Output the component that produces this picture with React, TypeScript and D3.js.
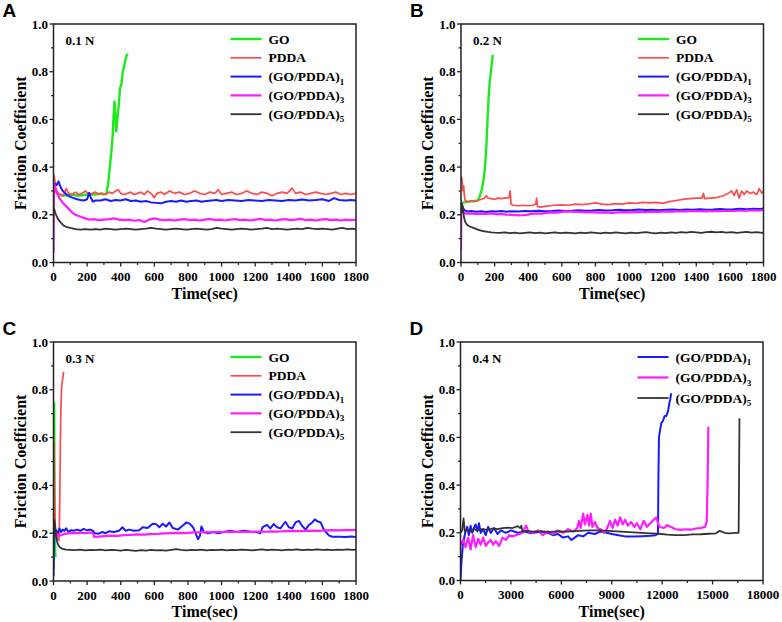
import React from 'react';
import * as d3 from 'd3';

type Pt = [number, number];

// ---- Panel A, 0.1 N ----
const aGO: Pt[] = [[0,0.33],[10,0.31],[25,0.29],[50,0.28],[100,0.285],[150,0.28],[200,0.285],[250,0.285],[280,0.29],[300,0.285],[315,0.29],[325,0.33],[335,0.40],[345,0.47],[352,0.53],[358,0.62],[363,0.675],[368,0.62],[373,0.55],[380,0.6],[388,0.66],[396,0.73],[405,0.75],[412,0.8],[420,0.82],[428,0.85],[436,0.87],[442,0.875]];
const aPDDA: Pt[] = [[0,0.37],[5,0.36],[12,0.32],[20,0.30],[30,0.29],[45,0.285],[60,0.28],[75,0.31],[90,0.29],[110,0.285],[130,0.295],[150,0.285],[170,0.29],[190,0.3],[210,0.285],[230,0.29],[250,0.295],[270,0.285],[290,0.29],[310,0.285],[330,0.295],[350,0.29],[370,0.3],[385,0.305],[400,0.29],[420,0.285],[440,0.29],[460,0.295],[480,0.285],[500,0.29],[520,0.295],[540,0.285],[560,0.3],[580,0.29],[600,0.272],[615,0.29],[640,0.295],[660,0.285],[690,0.3],[720,0.29],[750,0.295],[780,0.285],[810,0.29],[840,0.3],[870,0.29],[900,0.285],[930,0.295],[960,0.29],[980,0.305],[1000,0.285],[1030,0.29],[1060,0.295],[1090,0.285],[1120,0.29],[1150,0.3],[1180,0.29],[1210,0.285],[1240,0.295],[1270,0.29],[1300,0.28],[1330,0.29],[1360,0.295],[1390,0.29],[1420,0.312],[1440,0.29],[1470,0.295],[1500,0.285],[1530,0.29],[1560,0.295],[1590,0.29],[1620,0.285],[1650,0.29],[1680,0.295],[1710,0.285],[1740,0.29],[1770,0.285],[1800,0.29]];
const aGP1: Pt[] = [[0,0.32],[10,0.33],[20,0.325],[30,0.34],[40,0.32],[55,0.30],[70,0.29],[85,0.28],[100,0.275],[120,0.27],[140,0.265],[160,0.262],[180,0.26],[200,0.265],[212,0.292],[220,0.275],[235,0.255],[250,0.26],[280,0.26],[310,0.265],[340,0.258],[370,0.262],[400,0.26],[430,0.265],[460,0.258],[490,0.26],[520,0.255],[550,0.258],[580,0.252],[610,0.25],[640,0.248],[670,0.255],[700,0.258],[730,0.255],[760,0.26],[790,0.255],[820,0.258],[850,0.26],[880,0.255],[910,0.258],[940,0.26],[970,0.262],[1000,0.258],[1040,0.262],[1080,0.26],[1120,0.258],[1160,0.262],[1200,0.26],[1240,0.258],[1280,0.262],[1320,0.26],[1360,0.258],[1400,0.262],[1440,0.26],[1480,0.264],[1520,0.26],[1560,0.262],[1600,0.265],[1640,0.258],[1670,0.27],[1700,0.262],[1740,0.26],[1770,0.262],[1800,0.26]];
const aGP3: Pt[] = [[0,0.04],[3,0.33],[10,0.31],[20,0.29],[35,0.27],[50,0.255],[70,0.24],[90,0.225],[110,0.21],[130,0.2],[150,0.195],[170,0.19],[190,0.185],[210,0.18],[240,0.182],[270,0.178],[300,0.18],[330,0.182],[360,0.185],[390,0.18],[420,0.178],[450,0.18],[480,0.175],[510,0.178],[540,0.17],[570,0.18],[600,0.185],[630,0.18],[660,0.178],[690,0.18],[720,0.176],[750,0.18],[780,0.182],[810,0.178],[840,0.18],[870,0.176],[900,0.18],[930,0.183],[960,0.178],[990,0.18],[1020,0.176],[1050,0.18],[1080,0.182],[1110,0.178],[1140,0.18],[1170,0.176],[1200,0.18],[1230,0.183],[1260,0.178],[1290,0.18],[1320,0.176],[1350,0.18],[1380,0.182],[1410,0.178],[1440,0.18],[1470,0.183],[1500,0.178],[1530,0.18],[1560,0.176],[1590,0.18],[1620,0.182],[1650,0.178],[1680,0.18],[1710,0.176],[1740,0.18],[1770,0.178],[1800,0.18]];
const aGP5: Pt[] = [[2,0.23],[8,0.215],[15,0.2],[25,0.185],[40,0.17],[60,0.155],[80,0.148],[100,0.145],[130,0.14],[160,0.138],[190,0.14],[220,0.138],[250,0.14],[280,0.138],[310,0.142],[340,0.14],[370,0.138],[400,0.14],[430,0.142],[460,0.14],[490,0.138],[520,0.14],[550,0.142],[580,0.145],[610,0.142],[640,0.14],[670,0.138],[700,0.14],[730,0.142],[760,0.14],[790,0.138],[820,0.14],[850,0.142],[880,0.14],[910,0.138],[940,0.14],[970,0.145],[1000,0.142],[1030,0.14],[1060,0.138],[1090,0.14],[1120,0.142],[1150,0.14],[1180,0.138],[1210,0.14],[1240,0.142],[1270,0.145],[1300,0.14],[1330,0.142],[1360,0.14],[1390,0.138],[1420,0.14],[1450,0.142],[1480,0.14],[1510,0.145],[1540,0.142],[1570,0.14],[1600,0.142],[1630,0.14],[1660,0.138],[1690,0.142],[1720,0.145],[1750,0.14],[1780,0.142],[1800,0.14]];

// ---- Panel B, 0.2 N ----
const bGO: Pt[] = [[0,0.25],[50,0.255],[100,0.26],[110,0.275],[125,0.31],[135,0.35],[145,0.42],[152,0.5],[159,0.62],[165,0.7],[171,0.76],[178,0.8],[184,0.84],[189,0.87]];
const bPDDA: Pt[] = [[3,0.36],[8,0.33],[12,0.3],[16,0.32],[20,0.28],[25,0.26],[40,0.255],[60,0.26],[80,0.255],[100,0.26],[120,0.265],[140,0.27],[150,0.28],[160,0.27],[180,0.268],[200,0.265],[220,0.27],[240,0.268],[260,0.27],[285,0.272],[292,0.3],[298,0.245],[310,0.24],[340,0.238],[370,0.24],[400,0.238],[430,0.24],[445,0.245],[450,0.27],[455,0.235],[470,0.232],[500,0.235],[530,0.238],[560,0.24],[600,0.242],[640,0.24],[680,0.245],[720,0.243],[760,0.246],[800,0.25],[840,0.245],[880,0.243],[920,0.247],[960,0.245],[1000,0.25],[1040,0.248],[1080,0.252],[1120,0.25],[1160,0.252],[1200,0.248],[1240,0.255],[1280,0.26],[1320,0.265],[1360,0.268],[1400,0.27],[1435,0.27],[1442,0.29],[1450,0.268],[1480,0.27],[1520,0.272],[1560,0.28],[1590,0.29],[1610,0.3],[1625,0.28],[1640,0.305],[1655,0.27],[1670,0.3],[1685,0.285],[1700,0.3],[1720,0.29],[1740,0.295],[1760,0.285],[1775,0.31],[1790,0.29],[1800,0.3]];
const bGP1: Pt[] = [[2,0.25],[6,0.24],[12,0.228],[20,0.22],[30,0.216],[45,0.214],[60,0.216],[90,0.213],[120,0.215],[150,0.212],[180,0.215],[210,0.214],[240,0.216],[270,0.213],[300,0.215],[340,0.214],[380,0.216],[420,0.215],[460,0.217],[500,0.215],[540,0.216],[580,0.218],[620,0.216],[660,0.217],[700,0.219],[740,0.217],[780,0.218],[820,0.22],[860,0.218],[900,0.219],[940,0.221],[980,0.219],[1020,0.22],[1060,0.222],[1100,0.22],[1140,0.221],[1180,0.219],[1220,0.221],[1260,0.222],[1300,0.22],[1340,0.222],[1380,0.221],[1420,0.223],[1460,0.221],[1500,0.222],[1540,0.224],[1580,0.222],[1620,0.223],[1660,0.225],[1700,0.223],[1740,0.225],[1780,0.224],[1800,0.226]];
const bGP3: Pt[] = [[0,0.05],[2,0.24],[6,0.225],[12,0.212],[20,0.207],[35,0.205],[60,0.206],[90,0.203],[120,0.205],[150,0.204],[180,0.206],[210,0.203],[240,0.204],[270,0.201],[300,0.2],[330,0.199],[360,0.198],[390,0.2],[420,0.204],[450,0.206],[480,0.205],[510,0.208],[540,0.21],[570,0.209],[600,0.212],[630,0.214],[660,0.213],[700,0.212],[740,0.21],[780,0.211],[820,0.209],[860,0.21],[900,0.208],[940,0.21],[980,0.211],[1020,0.21],[1060,0.212],[1100,0.211],[1140,0.213],[1180,0.212],[1220,0.214],[1260,0.213],[1300,0.215],[1340,0.214],[1380,0.216],[1420,0.215],[1460,0.214],[1500,0.216],[1540,0.215],[1580,0.217],[1620,0.216],[1660,0.218],[1700,0.217],[1740,0.219],[1780,0.218],[1800,0.22]];
const bGP5: Pt[] = [[2,0.21],[6,0.245],[10,0.235],[14,0.21],[18,0.19],[24,0.172],[32,0.162],[42,0.155],[55,0.15],[70,0.146],[85,0.142],[100,0.138],[120,0.134],[140,0.131],[160,0.128],[180,0.126],[200,0.125],[230,0.124],[260,0.126],[290,0.123],[320,0.125],[350,0.122],[380,0.124],[410,0.126],[440,0.123],[470,0.125],[500,0.122],[530,0.124],[560,0.126],[590,0.123],[620,0.125],[650,0.124],[680,0.122],[710,0.125],[740,0.123],[770,0.126],[800,0.124],[830,0.122],[860,0.125],[890,0.123],[920,0.126],[950,0.124],[980,0.122],[1010,0.125],[1040,0.123],[1070,0.125],[1100,0.127],[1130,0.124],[1160,0.122],[1190,0.125],[1220,0.123],[1250,0.126],[1280,0.124],[1310,0.127],[1340,0.125],[1370,0.128],[1400,0.126],[1430,0.124],[1460,0.127],[1490,0.129],[1520,0.126],[1550,0.128],[1580,0.125],[1610,0.127],[1640,0.124],[1670,0.126],[1700,0.128],[1730,0.125],[1760,0.127],[1790,0.124],[1800,0.126]];

// ---- Panel C, 0.3 N ----
const cGO: Pt[] = [[1,0.05],[2,0.3],[3,0.6],[4,0.745],[5,0.6],[6,0.4],[8,0.2],[10,0.12],[12,0.1]];
const cPDDA: Pt[] = [[2,0.22],[3,0.58],[5,0.45],[7,0.32],[10,0.24],[14,0.2],[20,0.19],[26,0.18],[32,0.17],[35,0.22],[38,0.38],[41,0.58],[44,0.72],[47,0.79],[50,0.82],[53,0.84],[56,0.85],[60,0.875]];
const cGP1: Pt[] = [[0,0.02],[2,0.12],[4,0.2],[8,0.22],[15,0.21],[25,0.2],[35,0.22],[45,0.205],[55,0.215],[65,0.21],[75,0.22],[90,0.205],[105,0.213],[120,0.21],[140,0.215],[160,0.21],[180,0.218],[200,0.212],[220,0.215],[235,0.21],[245,0.2],[270,0.198],[290,0.205],[310,0.2],[330,0.208],[360,0.205],[390,0.21],[410,0.225],[430,0.21],[450,0.215],[480,0.21],[510,0.212],[530,0.225],[560,0.222],[590,0.24],[610,0.238],[630,0.225],[650,0.24],[670,0.228],[690,0.245],[710,0.222],[740,0.215],[770,0.232],[790,0.245],[810,0.24],[830,0.225],[845,0.2],[860,0.175],[872,0.19],[880,0.228],[895,0.205],[920,0.2],[950,0.205],[980,0.2],[1010,0.205],[1050,0.21],[1090,0.205],[1130,0.21],[1170,0.207],[1210,0.205],[1230,0.2],[1245,0.225],[1270,0.235],[1290,0.22],[1310,0.238],[1330,0.225],[1350,0.22],[1380,0.248],[1400,0.225],[1420,0.22],[1440,0.245],[1460,0.252],[1480,0.23],[1500,0.215],[1520,0.235],[1540,0.245],[1555,0.258],[1570,0.25],[1590,0.245],[1605,0.22],[1620,0.205],[1640,0.19],[1660,0.185],[1700,0.185],[1740,0.184],[1770,0.186],[1800,0.184]];
const cGP3: Pt[] = [[3,0.23],[6,0.215],[10,0.2],[15,0.19],[25,0.195],[40,0.19],[60,0.196],[80,0.198],[100,0.2],[130,0.2],[160,0.202],[190,0.2],[220,0.203],[235,0.2],[242,0.185],[270,0.186],[300,0.188],[340,0.19],[380,0.189],[420,0.192],[460,0.193],[500,0.195],[540,0.194],[580,0.196],[620,0.197],[660,0.199],[700,0.2],[740,0.201],[780,0.2],[820,0.202],[860,0.204],[900,0.205],[940,0.204],[980,0.206],[1020,0.205],[1060,0.206],[1100,0.205],[1140,0.206],[1180,0.205],[1220,0.207],[1260,0.206],[1300,0.208],[1340,0.207],[1380,0.209],[1420,0.21],[1460,0.209],[1500,0.21],[1540,0.211],[1580,0.21],[1620,0.212],[1660,0.213],[1700,0.212],[1740,0.214],[1780,0.213],[1800,0.214]];
const cGP5: Pt[] = [[2,0.19],[5,0.255],[8,0.24],[12,0.21],[16,0.185],[22,0.163],[30,0.148],[40,0.14],[55,0.134],[75,0.131],[100,0.13],[130,0.129],[160,0.131],[190,0.128],[220,0.13],[250,0.129],[280,0.131],[310,0.128],[340,0.13],[370,0.129],[400,0.127],[430,0.13],[460,0.128],[490,0.126],[520,0.129],[550,0.127],[580,0.13],[610,0.128],[640,0.129],[670,0.127],[700,0.13],[730,0.133],[760,0.13],[790,0.128],[820,0.13],[850,0.129],[880,0.131],[910,0.128],[940,0.13],[970,0.129],[1000,0.131],[1030,0.128],[1060,0.13],[1090,0.129],[1120,0.131],[1150,0.13],[1180,0.128],[1210,0.13],[1240,0.132],[1270,0.129],[1300,0.131],[1330,0.13],[1360,0.128],[1390,0.131],[1420,0.13],[1450,0.132],[1480,0.129],[1510,0.131],[1540,0.13],[1570,0.132],[1600,0.13],[1630,0.131],[1660,0.129],[1690,0.131],[1720,0.13],[1750,0.132],[1780,0.13],[1800,0.131]];

// ---- Panel D, 0.4 N ----
const dGP1: Pt[] = [[0,0.0],[60,0.08],[140,0.15],[280,0.2],[400,0.225],[500,0.19],[600,0.23],[700,0.2],[800,0.22],[900,0.235],[1000,0.205],[1100,0.24],[1200,0.2],[1350,0.215],[1500,0.19],[1650,0.225],[1800,0.2],[2000,0.22],[2200,0.195],[2400,0.21],[2700,0.2],[3000,0.21],[3400,0.2],[3800,0.205],[4200,0.198],[4800,0.205],[5200,0.2],[5500,0.19],[5800,0.195],[6100,0.18],[6400,0.185],[6600,0.17],[6800,0.18],[7000,0.19],[7300,0.185],[7600,0.2],[8000,0.195],[8300,0.205],[8700,0.2],[9000,0.195],[9400,0.19],[9800,0.185],[10300,0.184],[10800,0.186],[11300,0.188],[11600,0.19],[11750,0.195],[11780,0.45],[11810,0.6],[11900,0.64],[11950,0.66],[12050,0.67],[12150,0.69],[12250,0.69],[12350,0.71],[12420,0.74],[12480,0.76],[12540,0.785]];
const dGP3: Pt[] = [[0,0.15],[150,0.17],[300,0.14],[450,0.18],[600,0.13],[750,0.19],[900,0.14],[1050,0.175],[1200,0.15],[1350,0.18],[1500,0.145],[1650,0.16],[1800,0.17],[1950,0.15],[2100,0.165],[2300,0.145],[2500,0.18],[2700,0.17],[2900,0.19],[3100,0.185],[3300,0.19],[3500,0.195],[3700,0.2],[3900,0.23],[4050,0.205],[4300,0.2],[4600,0.21],[4900,0.19],[5200,0.205],[5500,0.195],[5800,0.21],[6100,0.2],[6400,0.215],[6700,0.205],[6950,0.22],[7050,0.25],[7150,0.22],[7300,0.28],[7400,0.235],[7550,0.275],[7650,0.23],[7750,0.28],[7850,0.225],[8000,0.245],[8150,0.22],[8350,0.215],[8550,0.2],[8700,0.215],[8900,0.25],[9050,0.22],[9200,0.255],[9350,0.23],[9500,0.265],[9650,0.235],[9800,0.255],[9950,0.23],[10150,0.245],[10350,0.225],[10500,0.24],[10700,0.215],[10900,0.25],[11100,0.225],[11300,0.24],[11500,0.255],[11650,0.265],[11750,0.24],[11850,0.225],[12100,0.22],[12300,0.232],[12500,0.225],[12800,0.215],[13100,0.212],[13400,0.215],[13700,0.213],[14000,0.218],[14300,0.22],[14550,0.225],[14650,0.245],[14700,0.4],[14750,0.645]];
const dGP5: Pt[] = [[0,0.2],[100,0.21],[180,0.26],[260,0.205],[400,0.215],[600,0.205],[800,0.215],[1000,0.21],[1300,0.215],[1600,0.212],[1900,0.218],[2200,0.215],[2500,0.22],[2800,0.222],[3100,0.22],[3400,0.228],[3550,0.22],[3620,0.23],[3680,0.205],[3900,0.208],[4300,0.205],[4800,0.206],[5300,0.204],[5800,0.206],[6300,0.205],[6800,0.207],[7300,0.209],[7800,0.21],[8300,0.21],[8800,0.208],[9300,0.206],[9800,0.204],[10300,0.202],[10800,0.2],[11300,0.198],[11800,0.196],[12300,0.192],[12800,0.19],[13300,0.19],[13800,0.193],[14300,0.194],[14800,0.196],[15200,0.198],[15400,0.208],[15550,0.205],[15700,0.2],[16000,0.198],[16300,0.2],[16550,0.2],[16600,0.68]];

const yTicks = [0, 0.2, 0.4, 0.6, 0.8, 1.0];
const xTicksShort = [0, 200, 400, 600, 800, 1000, 1200, 1400, 1600, 1800];
const xTicksLong = [0, 3000, 6000, 9000, 12000, 15000, 18000];

type Key = 'GO' | 'PDDA' | 'GP1' | 'GP3' | 'GP5';
const labels: Record<Key, [string, string]> = {
  GO: ['GO', ''],
  PDDA: ['PDDA', ''],
  GP1: ['(GO/PDDA)', '1'],
  GP3: ['(GO/PDDA)', '3'],
  GP5: ['(GO/PDDA)', '5'],
};
const colors: Record<Key, string> = {
  GO: '#1ee81e',
  PDDA: '#ff4b4b',
  GP1: '#1a1aff',
  GP3: '#ff1cff',
  GP5: '#333333',
};
const widths: Record<Key, number> = { GO: 2.4, PDDA: 1.7, GP1: 2, GP3: 2.2, GP5: 1.8 };

interface PanelDef {
  letter: string;
  load: string;
  left: number; right: number; top: number; bottom: number;
  xMax: number;
  xTicks: number[];
  series: { key: Key; data: Pt[] }[];
  legendGap: number;
}

const panels: PanelDef[] = [
  { letter: 'A', load: '0.1 N', left: 53.5, right: 356, top: 24, bottom: 262.5, xMax: 1800, xTicks: xTicksShort, legendGap: 18.8,
    series: [{ key: 'GO', data: aGO }, { key: 'PDDA', data: aPDDA }, { key: 'GP1', data: aGP1 }, { key: 'GP3', data: aGP3 }, { key: 'GP5', data: aGP5 }] },
  { letter: 'B', load: '0.2 N', left: 461, right: 763.5, top: 24, bottom: 262.5, xMax: 1800, xTicks: xTicksShort, legendGap: 18.8,
    series: [{ key: 'GO', data: bGO }, { key: 'PDDA', data: bPDDA }, { key: 'GP1', data: bGP1 }, { key: 'GP3', data: bGP3 }, { key: 'GP5', data: bGP5 }] },
  { letter: 'C', load: '0.3 N', left: 53.5, right: 356, top: 342, bottom: 581, xMax: 1800, xTicks: xTicksShort, legendGap: 18.8,
    series: [{ key: 'GO', data: cGO }, { key: 'PDDA', data: cPDDA }, { key: 'GP1', data: cGP1 }, { key: 'GP3', data: cGP3 }, { key: 'GP5', data: cGP5 }] },
  { letter: 'D', load: '0.4 N', left: 460.5, right: 763, top: 342, bottom: 580.5, xMax: 18000, xTicks: xTicksLong, legendGap: 20.5,
    series: [{ key: 'GP1', data: dGP1 }, { key: 'GP3', data: dGP3 }, { key: 'GP5', data: dGP5 }] },
];

const serif = '"Liberation Serif", "Times New Roman", serif';
const axisColor = '#222';

const Panel: React.FC<{ p: PanelDef }> = ({ p }) => {
  const x = d3.scaleLinear().domain([0, p.xMax]).range([p.left, p.right]);
  const y = d3.scaleLinear().domain([0, 1]).range([p.bottom, p.top]);
  const line = d3.line<Pt>().x(d => x(d[0])).y(d => y(d[1]));
  const step = p.xTicks[1] - p.xTicks[0];
  const xMinor = p.xTicks.slice(0, -1).map(t => t + step / 2);
  const yMinor = yTicks.slice(0, -1).map(t => t + 0.1);
  const clipId = `clip-${p.letter}`;
  const midY = (p.top + p.bottom) / 2;
  const midX = (p.left + p.right) / 2;

  return (
    <g>
      <defs>
        <clipPath id={clipId}>
          <rect x={p.left} y={p.top} width={p.right - p.left} height={p.bottom - p.top} />
        </clipPath>
      </defs>
      <text x={p.left - 51} y={p.top - 7} fontFamily='"Liberation Sans", Arial, sans-serif' fontWeight="bold" fontSize={19}>{p.letter}</text>

      <g clipPath={`url(#${clipId})`} fill="none" strokeLinejoin="round">
        {p.series.map(s => (
          <path key={s.key} d={line(s.data) ?? ''} stroke={colors[s.key]} strokeWidth={widths[s.key]} />
        ))}
      </g>

      {/* frame */}
      <rect x={p.left} y={p.top} width={p.right - p.left} height={p.bottom - p.top} fill="none" stroke={axisColor} strokeWidth={1.5} />

      {/* x ticks */}
      {p.xTicks.map(t => (
        <g key={`xt${t}`}>
          <line x1={x(t)} x2={x(t)} y1={p.bottom} y2={p.bottom + 4} stroke={axisColor} strokeWidth={1.3} />
          <text x={x(t)} y={p.bottom + 18.5} textAnchor="middle" fontFamily={serif} fontWeight="bold" fontSize={13}>{t}</text>
        </g>
      ))}
      {xMinor.map(t => (
        <line key={`xm${t}`} x1={x(t)} x2={x(t)} y1={p.bottom} y2={p.bottom + 2.5} stroke={axisColor} strokeWidth={1.2} />
      ))}

      {/* y ticks */}
      {yTicks.map(t => (
        <g key={`yt${t}`}>
          <line x1={p.left - 4} x2={p.left} y1={y(t)} y2={y(t)} stroke={axisColor} strokeWidth={1.3} />
          <text x={p.left - 5.5} y={y(t) + 4.5} textAnchor="end" fontFamily={serif} fontWeight="bold" fontSize={13}>{d3.format('.1f')(t)}</text>
        </g>
      ))}
      {yMinor.map(t => (
        <line key={`ym${t}`} x1={p.left - 2.5} x2={p.left} y1={y(t)} y2={y(t)} stroke={axisColor} strokeWidth={1.2} />
      ))}

      {/* axis titles */}
      <text x={midX} y={p.bottom + 36} textAnchor="middle" fontFamily={serif} fontWeight="bold" fontSize={16}>Time(sec)</text>
      <text transform={`translate(${p.left - 28},${midY}) rotate(-90)`} textAnchor="middle" fontFamily={serif} fontWeight="bold" fontSize={16}>Friction Coefficient</text>

      {/* load label */}
      <text x={p.left + 12} y={p.top + 21} fontFamily={serif} fontWeight="bold" fontSize={13}>{p.load}</text>

      {/* legend */}
      {p.series.map((s, i) => {
        const ly = p.top + 15 + i * p.legendGap;
        const lx = p.left + 177;
        const [main, sub] = labels[s.key];
        return (
          <g key={`lg${s.key}`}>
            <line x1={lx} x2={lx + 31} y1={ly} y2={ly} stroke={colors[s.key]} strokeWidth={widths[s.key]} />
            <text x={lx + 38} y={ly + 4.5} fontFamily={serif} fontWeight="bold" fontSize={13.5}>
              {main}
              {sub && <tspan fontSize={9} dy={3.5}>{sub}</tspan>}
            </text>
          </g>
        );
      })}
    </g>
  );
};

export default function App() {
  return (
    <svg width={782} height={622} viewBox="0 0 782 622" style={{ position: 'absolute', left: 0, top: 0, background: '#fff' }}>
      <rect width={782} height={622} fill="#fff" />
      {panels.map(p => <Panel key={p.letter} p={p} />)}
    </svg>
  );
}
